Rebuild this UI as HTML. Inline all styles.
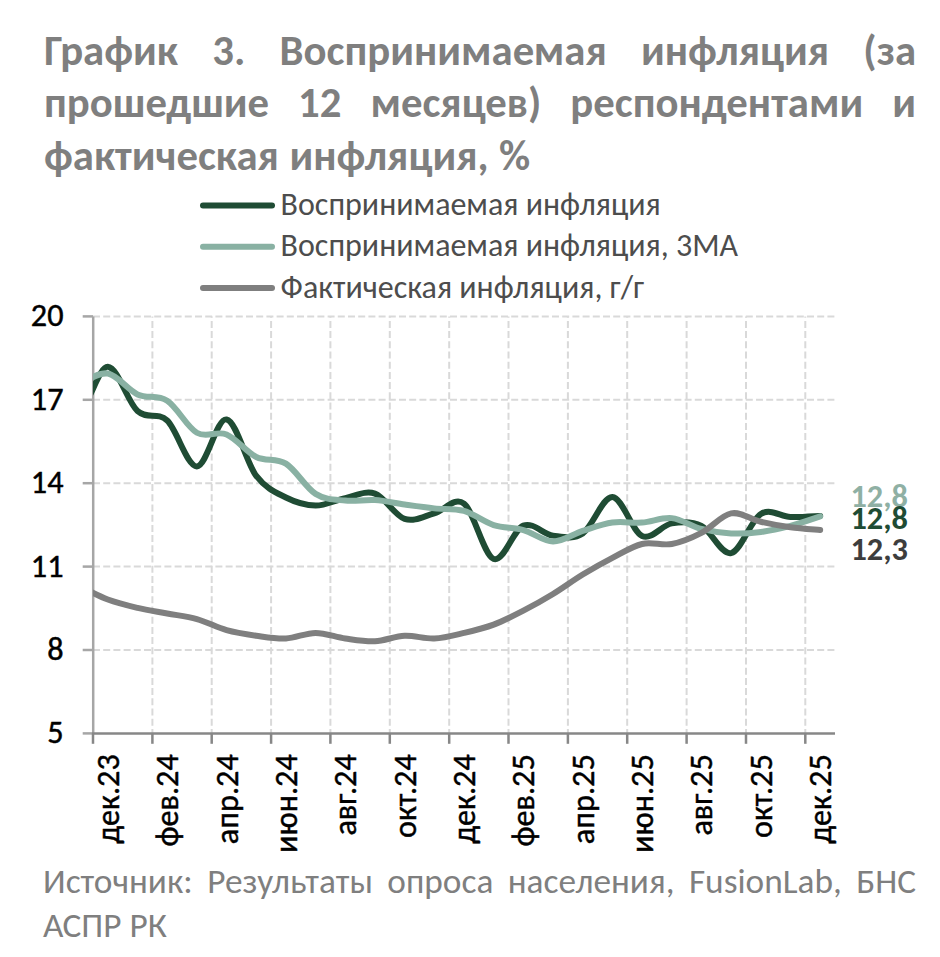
<!DOCTYPE html>
<html lang="ru"><head><meta charset="utf-8"><title>График 3</title>
<style>
html,body{margin:0;padding:0;background:#fff;}
body{width:940px;height:957px;overflow:hidden;}
svg{display:block;}
text{font-family:Carlito, 'Liberation Sans', Arial, sans-serif;font-size-adjust:0.4775;}
</style></head><body>
<svg width="940" height="957" viewBox="0 0 940 957">
<defs><clipPath id="pa"><rect x="93" y="300" width="760" height="433"/></clipPath></defs>
<rect width="940" height="957" fill="#fff"/>
<g fill="#7f7f7f" font-weight="bold" font-size="42.75">
<text x="44.00" y="65.0" textLength="134.01" lengthAdjust="spacingAndGlyphs">График</text>
<text x="212.24" y="65.0" textLength="33.09" lengthAdjust="spacingAndGlyphs">3.</text>
<text x="279.55" y="65.0" textLength="327.22" lengthAdjust="spacingAndGlyphs">Воспринимаемая</text>
<text x="640.99" y="65.0" textLength="188.12" lengthAdjust="spacingAndGlyphs">инфляция</text>
<text x="863.33" y="65.0" textLength="52.67" lengthAdjust="spacingAndGlyphs">(за</text>
<text x="44.00" y="117.3" textLength="225.13" lengthAdjust="spacingAndGlyphs">прошедшие</text>
<text x="298.12" y="117.3" textLength="43.33" lengthAdjust="spacingAndGlyphs">12</text>
<text x="370.45" y="117.3" textLength="170.85" lengthAdjust="spacingAndGlyphs">месяцев)</text>
<text x="570.30" y="117.3" textLength="292.90" lengthAdjust="spacingAndGlyphs">респондентами</text>
<text x="892.20" y="117.3" textLength="23.80" lengthAdjust="spacingAndGlyphs">и</text>
<text x="44.00" y="169.6" textLength="234.85" lengthAdjust="spacingAndGlyphs">фактическая</text>
<text x="289.42" y="169.6" textLength="199.14" lengthAdjust="spacingAndGlyphs">инфляция,</text>
<text x="499.12" y="169.6" textLength="31.16" lengthAdjust="spacingAndGlyphs">%</text>
</g>
<g fill="#7f7f7f" font-size="35.3">
<text x="43.00" y="892.6" textLength="149.77" lengthAdjust="spacingAndGlyphs">Источник:</text>
<text x="207.18" y="892.6" textLength="165.73" lengthAdjust="spacingAndGlyphs">Результаты</text>
<text x="387.33" y="892.6" textLength="105.98" lengthAdjust="spacingAndGlyphs">опроса</text>
<text x="507.72" y="892.6" textLength="166.75" lengthAdjust="spacingAndGlyphs">населения,</text>
<text x="688.88" y="892.6" textLength="152.92" lengthAdjust="spacingAndGlyphs">FusionLab,</text>
<text x="856.21" y="892.6" textLength="59.79" lengthAdjust="spacingAndGlyphs">БНС</text>
<text x="43.00" y="936.7" textLength="78.45" lengthAdjust="spacingAndGlyphs">АСПР</text>
<text x="129.43" y="936.7" textLength="37.40" lengthAdjust="spacingAndGlyphs">РК</text>
</g>
<g fill="#4d4d4d" font-size="32.0">
<line x1="203" y1="205.6" x2="272" y2="205.6" stroke="#1f4c34" stroke-width="6" stroke-linecap="round"/>
<text x="280.6" y="215.2" textLength="380.12" lengthAdjust="spacingAndGlyphs">Воспринимаемая инфляция</text>
<line x1="203" y1="246.7" x2="272" y2="246.7" stroke="#89b1a3" stroke-width="6" stroke-linecap="round"/>
<text x="280.6" y="256.3" textLength="457.44" lengthAdjust="spacingAndGlyphs">Воспринимаемая инфляция, 3МА</text>
<line x1="203" y1="288.1" x2="272" y2="288.1" stroke="#7f7f7f" stroke-width="6" stroke-linecap="round"/>
<text x="280.6" y="297.8" textLength="363.50" lengthAdjust="spacingAndGlyphs">Фактическая инфляция, г/г</text>
</g>
<line x1="93" y1="316.4" x2="835" y2="316.4" stroke="#d9d9d9" stroke-width="2" stroke-dasharray="7,3.2"/>
<line x1="93" y1="399.8" x2="835" y2="399.8" stroke="#d9d9d9" stroke-width="2" stroke-dasharray="7,3.2"/>
<line x1="93" y1="483.2" x2="835" y2="483.2" stroke="#d9d9d9" stroke-width="2" stroke-dasharray="7,3.2"/>
<line x1="93" y1="566.6" x2="835" y2="566.6" stroke="#d9d9d9" stroke-width="2" stroke-dasharray="7,3.2"/>
<line x1="93" y1="650.0" x2="835" y2="650.0" stroke="#d9d9d9" stroke-width="2" stroke-dasharray="7,3.2"/>
<line x1="152.4" y1="733.4" x2="152.4" y2="316.4" stroke="#d9d9d9" stroke-width="2" stroke-dasharray="7,3.2" stroke-dashoffset="2.5"/>
<line x1="211.7" y1="733.4" x2="211.7" y2="316.4" stroke="#d9d9d9" stroke-width="2" stroke-dasharray="7,3.2" stroke-dashoffset="2.5"/>
<line x1="271.1" y1="733.4" x2="271.1" y2="316.4" stroke="#d9d9d9" stroke-width="2" stroke-dasharray="7,3.2" stroke-dashoffset="2.5"/>
<line x1="330.4" y1="733.4" x2="330.4" y2="316.4" stroke="#d9d9d9" stroke-width="2" stroke-dasharray="7,3.2" stroke-dashoffset="2.5"/>
<line x1="389.8" y1="733.4" x2="389.8" y2="316.4" stroke="#d9d9d9" stroke-width="2" stroke-dasharray="7,3.2" stroke-dashoffset="2.5"/>
<line x1="449.2" y1="733.4" x2="449.2" y2="316.4" stroke="#d9d9d9" stroke-width="2" stroke-dasharray="7,3.2" stroke-dashoffset="2.5"/>
<line x1="508.5" y1="733.4" x2="508.5" y2="316.4" stroke="#d9d9d9" stroke-width="2" stroke-dasharray="7,3.2" stroke-dashoffset="2.5"/>
<line x1="567.9" y1="733.4" x2="567.9" y2="316.4" stroke="#d9d9d9" stroke-width="2" stroke-dasharray="7,3.2" stroke-dashoffset="2.5"/>
<line x1="627.2" y1="733.4" x2="627.2" y2="316.4" stroke="#d9d9d9" stroke-width="2" stroke-dasharray="7,3.2" stroke-dashoffset="2.5"/>
<line x1="686.6" y1="733.4" x2="686.6" y2="316.4" stroke="#d9d9d9" stroke-width="2" stroke-dasharray="7,3.2" stroke-dashoffset="2.5"/>
<line x1="746.0" y1="733.4" x2="746.0" y2="316.4" stroke="#d9d9d9" stroke-width="2" stroke-dasharray="7,3.2" stroke-dashoffset="2.5"/>
<line x1="805.3" y1="733.4" x2="805.3" y2="316.4" stroke="#d9d9d9" stroke-width="2" stroke-dasharray="7,3.2" stroke-dashoffset="2.5"/>
<line x1="93.2" y1="316.4" x2="93.2" y2="733.4" stroke="#a6a6a6" stroke-width="2.5"/>
<line x1="82.7" y1="316.4" x2="93" y2="316.4" stroke="#a6a6a6" stroke-width="2.5"/>
<line x1="82.7" y1="399.8" x2="93" y2="399.8" stroke="#a6a6a6" stroke-width="2.5"/>
<line x1="82.7" y1="483.2" x2="93" y2="483.2" stroke="#a6a6a6" stroke-width="2.5"/>
<line x1="82.7" y1="566.6" x2="93" y2="566.6" stroke="#a6a6a6" stroke-width="2.5"/>
<line x1="82.7" y1="650.0" x2="93" y2="650.0" stroke="#a6a6a6" stroke-width="2.5"/>
<line x1="82.7" y1="733.4" x2="93" y2="733.4" stroke="#a6a6a6" stroke-width="2.5"/>
<line x1="92" y1="733.4" x2="835" y2="733.4" stroke="#878787" stroke-width="2.5"/>
<line x1="93.0" y1="733.4" x2="93.0" y2="743.8" stroke="#878787" stroke-width="2.5"/>
<line x1="152.4" y1="733.4" x2="152.4" y2="743.8" stroke="#878787" stroke-width="2.5"/>
<line x1="211.7" y1="733.4" x2="211.7" y2="743.8" stroke="#878787" stroke-width="2.5"/>
<line x1="271.1" y1="733.4" x2="271.1" y2="743.8" stroke="#878787" stroke-width="2.5"/>
<line x1="330.4" y1="733.4" x2="330.4" y2="743.8" stroke="#878787" stroke-width="2.5"/>
<line x1="389.8" y1="733.4" x2="389.8" y2="743.8" stroke="#878787" stroke-width="2.5"/>
<line x1="449.2" y1="733.4" x2="449.2" y2="743.8" stroke="#878787" stroke-width="2.5"/>
<line x1="508.5" y1="733.4" x2="508.5" y2="743.8" stroke="#878787" stroke-width="2.5"/>
<line x1="567.9" y1="733.4" x2="567.9" y2="743.8" stroke="#878787" stroke-width="2.5"/>
<line x1="627.2" y1="733.4" x2="627.2" y2="743.8" stroke="#878787" stroke-width="2.5"/>
<line x1="686.6" y1="733.4" x2="686.6" y2="743.8" stroke="#878787" stroke-width="2.5"/>
<line x1="746.0" y1="733.4" x2="746.0" y2="743.8" stroke="#878787" stroke-width="2.5"/>
<line x1="805.3" y1="733.4" x2="805.3" y2="743.8" stroke="#878787" stroke-width="2.5"/>
<g font-size="32.2" fill="#000" stroke="#000" stroke-width="0.45">
<text x="63.5" y="326.3" text-anchor="end" textLength="32.63" lengthAdjust="spacingAndGlyphs">20</text>
<text x="63.5" y="409.7" text-anchor="end" textLength="32.63" lengthAdjust="spacingAndGlyphs">17</text>
<text x="63.5" y="493.1" text-anchor="end" textLength="32.63" lengthAdjust="spacingAndGlyphs">14</text>
<text x="63.5" y="576.5" text-anchor="end" textLength="32.63" lengthAdjust="spacingAndGlyphs">11</text>
<text x="63.5" y="659.9" text-anchor="end" textLength="16.31" lengthAdjust="spacingAndGlyphs">8</text>
<text x="63.5" y="743.3" text-anchor="end" textLength="16.31" lengthAdjust="spacingAndGlyphs">5</text>
<text transform="translate(118.8,754.3) rotate(-90)" text-anchor="end" textLength="89.36" lengthAdjust="spacingAndGlyphs">дек.23</text>
<text transform="translate(178.2,754.3) rotate(-90)" text-anchor="end" textLength="92.27" lengthAdjust="spacingAndGlyphs">фев.24</text>
<text transform="translate(237.5,754.3) rotate(-90)" text-anchor="end" textLength="89.84" lengthAdjust="spacingAndGlyphs">апр.24</text>
<text transform="translate(296.9,754.3) rotate(-90)" text-anchor="end" textLength="98.59" lengthAdjust="spacingAndGlyphs">июн.24</text>
<text transform="translate(356.2,754.3) rotate(-90)" text-anchor="end" textLength="81.25" lengthAdjust="spacingAndGlyphs">авг.24</text>
<text transform="translate(415.6,754.3) rotate(-90)" text-anchor="end" textLength="83.78" lengthAdjust="spacingAndGlyphs">окт.24</text>
<text transform="translate(475.0,754.3) rotate(-90)" text-anchor="end" textLength="89.36" lengthAdjust="spacingAndGlyphs">дек.24</text>
<text transform="translate(534.3,754.3) rotate(-90)" text-anchor="end" textLength="92.27" lengthAdjust="spacingAndGlyphs">фев.25</text>
<text transform="translate(593.7,754.3) rotate(-90)" text-anchor="end" textLength="89.84" lengthAdjust="spacingAndGlyphs">апр.25</text>
<text transform="translate(653.0,754.3) rotate(-90)" text-anchor="end" textLength="98.59" lengthAdjust="spacingAndGlyphs">июн.25</text>
<text transform="translate(712.4,754.3) rotate(-90)" text-anchor="end" textLength="81.25" lengthAdjust="spacingAndGlyphs">авг.25</text>
<text transform="translate(771.8,754.3) rotate(-90)" text-anchor="end" textLength="83.78" lengthAdjust="spacingAndGlyphs">окт.25</text>
<text transform="translate(831.1,754.3) rotate(-90)" text-anchor="end" textLength="89.36" lengthAdjust="spacingAndGlyphs">дек.25</text>
</g>
<g clip-path="url(#pa)" fill="none" stroke-width="6" stroke-linecap="round" stroke-linejoin="round">
<path d="M48.48,345.47 C53.43,355.94 68.27,404.73 78.16,408.30 C88.05,411.86 97.95,366.41 107.84,366.87 C117.73,367.34 127.63,402.13 137.52,411.08 C147.41,420.02 157.31,411.31 167.20,420.53 C177.09,429.75 186.99,466.58 196.88,466.40 C206.77,466.21 216.67,417.84 226.56,419.42 C236.45,420.99 246.35,462.83 256.24,475.85 C266.13,488.87 276.03,492.58 285.92,497.53 C295.81,502.49 305.71,505.50 315.60,505.60 C325.49,505.69 335.39,500.08 345.28,498.09 C355.17,496.10 365.07,490.17 374.96,493.64 C384.85,497.12 394.75,515.65 404.64,518.94 C414.53,522.23 424.43,515.93 434.32,513.38 C444.21,510.83 454.11,496.05 464.00,503.65 C473.89,511.25 483.79,555.31 493.68,558.97 C503.57,562.63 513.47,529.50 523.36,525.61 C533.25,521.72 543.15,534.32 553.04,535.62 C562.93,536.92 572.83,539.84 582.72,533.40 C592.61,526.96 602.51,496.56 612.40,496.98 C622.29,497.39 632.19,531.50 642.08,535.90 C651.97,540.30 661.87,525.06 671.76,523.39 C681.65,521.72 691.55,520.93 701.44,525.89 C711.33,530.85 721.23,555.13 731.12,553.13 C741.01,551.14 750.91,519.96 760.80,513.94 C770.69,507.91 780.59,516.67 790.48,516.99 C800.37,517.32 815.21,516.07 820.16,515.88" stroke="#1f4c34"/>
<path d="M48.48,391.06 C53.43,389.90 68.27,387.03 78.16,384.11 C88.05,381.19 97.95,371.83 107.84,373.55 C117.73,375.26 127.63,389.86 137.52,394.40 C147.41,398.94 157.31,394.40 167.20,400.79 C177.09,407.18 186.99,427.15 196.88,432.76 C206.77,438.37 216.67,430.40 226.56,434.43 C236.45,438.46 246.35,452.08 256.24,456.95 C266.13,461.81 276.03,457.46 285.92,463.62 C295.81,469.78 305.71,487.76 315.60,493.92 C325.49,500.08 335.39,499.57 345.28,500.59 C355.17,501.61 365.07,499.39 374.96,500.04 C384.85,500.68 394.75,503.09 404.64,504.48 C414.53,505.87 424.43,507.31 434.32,508.38 C444.21,509.44 454.11,508.10 464.00,510.88 C473.89,513.66 483.79,521.86 493.68,525.06 C503.57,528.25 513.47,527.33 523.36,530.06 C533.25,532.79 543.15,541.32 553.04,541.46 C562.93,541.60 572.83,534.04 582.72,530.89 C592.61,527.74 602.51,523.94 612.40,522.55 C622.29,521.16 632.19,523.30 642.08,522.55 C651.97,521.81 661.87,517.04 671.76,518.11 C681.65,519.17 691.55,526.40 701.44,528.95 C711.33,531.50 721.23,532.89 731.12,533.40 C741.01,533.91 750.91,533.26 760.80,532.01 C770.69,530.75 780.59,528.48 790.48,525.89 C800.37,523.30 815.21,518.01 820.16,516.44" stroke="#89b1a3"/>
<path d="M48.48,571.76 C53.43,574.08 68.27,581.03 78.16,585.66 C88.05,590.29 97.95,595.85 107.84,599.56 C117.73,603.27 127.63,605.58 137.52,607.90 C147.41,610.22 157.31,611.61 167.20,613.46 C177.09,615.31 186.99,616.24 196.88,619.02 C206.77,621.80 216.67,627.36 226.56,630.14 C236.45,632.92 246.35,634.31 256.24,635.70 C266.13,637.09 276.03,638.94 285.92,638.48 C295.81,638.02 305.71,632.92 315.60,632.92 C325.49,632.92 335.39,637.09 345.28,638.48 C355.17,639.87 365.07,641.72 374.96,641.26 C384.85,640.80 394.75,636.16 404.64,635.70 C414.53,635.24 424.43,638.94 434.32,638.48 C444.21,638.02 454.11,635.24 464.00,632.92 C473.89,630.60 483.79,628.29 493.68,624.58 C503.57,620.87 513.47,615.78 523.36,610.68 C533.25,605.58 543.15,600.02 553.04,594.00 C562.93,587.98 572.83,580.56 582.72,574.54 C592.61,568.52 602.51,562.96 612.40,557.86 C622.29,552.76 632.19,546.28 642.08,543.96 C651.97,541.64 661.87,545.81 671.76,543.96 C681.65,542.11 691.55,537.94 701.44,532.84 C711.33,527.74 721.23,515.23 731.12,513.38 C741.01,511.53 750.91,519.40 760.80,521.72 C770.69,524.04 780.59,525.89 790.48,527.28 C800.37,528.67 815.21,529.60 820.16,530.06" stroke="#7f7f7f"/>
</g>
<g font-size="32.3" font-weight="bold">
<text x="850.5" y="506.6" fill="#8fb0a4" textLength="57.43" lengthAdjust="spacingAndGlyphs">12,8</text>
<text x="850.5" y="528.9" fill="#1f4c34" textLength="57.43" lengthAdjust="spacingAndGlyphs">12,8</text>
<text x="850.5" y="560.2" fill="#3d3d3d" textLength="57.43" lengthAdjust="spacingAndGlyphs">12,3</text>
</g>
</svg>
</body></html>
